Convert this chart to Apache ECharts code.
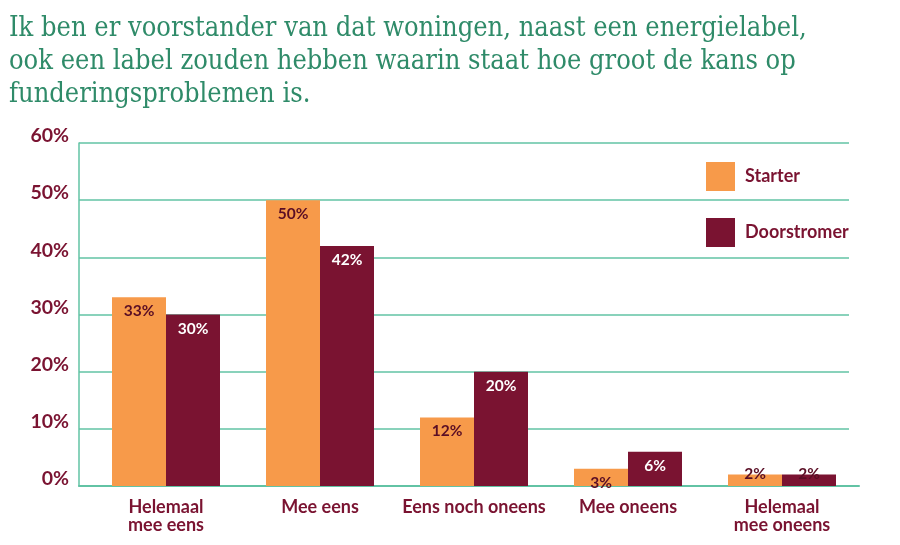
<!DOCTYPE html>
<html><head><meta charset="utf-8">
<script src="https://cdn.jsdelivr.net/npm/echarts@6/dist/echarts.min.js"></script>
<style>html,body{margin:0;padding:0;background:#fff}#c{width:900px;height:545px}</style>
</head><body><div id="c"></div>
<script>
const titleLines = ["Ik ben er voorstander van dat woningen, naast een energielabel,", "ook een label zouden hebben waarin staat hoe groot de kans op", "funderingsproblemen is."];
const categories = ["Helemaal\nmee eens", "Mee eens", "Eens noch oneens", "Mee oneens", "Helemaal\nmee oneens"];
const seriesNames = ["Starter", "Doorstromer"];
const starter = [33, 50, 12, 3, 2];
const doorstromer = [30, 42, 20, 6, 2];
const yTicks = [0, 10, 20, 30, 40, 50, 60];

const ORANGE = '#F79A4A', MAROON = '#7A1331', TEAL = '#62C3A4', GREEN = '#2F8B69', DARK = '#5A0E25';
const FONT = 'Lato';

function items(vals) {
  return vals.map(v => v <= 2
    ? {value: v, label: {position: 'top', distance: -7, color: DARK}}
    : {value: v});
}

const chart = echarts.init(document.getElementById('c'));
chart.setOption({
  animation: false,
  title: {
    text: titleLines.join('\n'), left: 4, top: 7,
    textStyle: {fontFamily: "'DejaVu Serif Condensed', 'DejaVu Serif'", fontWeight: 'normal', fontSize: 27, lineHeight: 33, color: GREEN}
  },
  legend: {
    orient: 'vertical', left: 701, top: 157, itemWidth: 29, itemHeight: 29, itemGap: 27,
    icon: 'rect', data: seriesNames,
    textStyle: {fontFamily: FONT, fontWeight: 'bold', fontSize: 18, color: MAROON, padding: [0, 0, 0, 5]}
  },
  grid: [
    {left: 79, right: 51, top: 143, bottom: 59},
    {left: 89, right: 41, top: 143, bottom: 59}
  ],
  xAxis: [
    {type: 'category', gridIndex: 0, data: categories, axisLine: {show: true, lineStyle: {color: TEAL, width: 2}},
     axisTick: {show: false}, axisLabel: {show: false}, splitLine: {show: false}},
    {type: 'category', gridIndex: 1, data: categories, axisLine: {show: true, lineStyle: {color: TEAL, width: 2}},
     axisTick: {show: false},
     axisLabel: {margin: 12, fontFamily: FONT, fontSize: 18, fontWeight: 'bold', lineHeight: 18, color: MAROON, interval: 0}}
  ],
  yAxis: [
    {type: 'value', gridIndex: 0, min: 0, max: 60, interval: 10,
     axisLine: {show: true, lineStyle: {color: TEAL, width: 1.5}}, axisTick: {show: false},
     splitLine: {lineStyle: {color: TEAL, width: 1.5}},
     axisLabel: {formatter: v => yTicks.includes(v) ? v + '%' : '', margin: 10, verticalAlign: 'bottom', lineHeight: 14,
       fontFamily: FONT, fontWeight: 'bold', fontSize: 19.5, color: MAROON}},
    {type: 'value', gridIndex: 1, min: 0, max: 60, interval: 10, show: false}
  ],
  series: [
    {name: seriesNames[0], type: 'bar', xAxisIndex: 1, yAxisIndex: 1, data: items(starter),
     barWidth: 54, barGap: '0%', itemStyle: {color: ORANGE},
     label: {show: true, position: 'insideTop', distance: 6, formatter: '{c}%', fontFamily: FONT, fontWeight: 'bold', fontSize: 15.5, color: DARK}},
    {name: seriesNames[1], type: 'bar', xAxisIndex: 1, yAxisIndex: 1, data: items(doorstromer),
     barWidth: 54, barGap: '0%', itemStyle: {color: MAROON},
     label: {show: true, position: 'insideTop', distance: 6, formatter: '{c}%', fontFamily: FONT, fontWeight: 'bold', fontSize: 15.5, color: '#ffffff'}}
  ]
});
</script></body></html>
